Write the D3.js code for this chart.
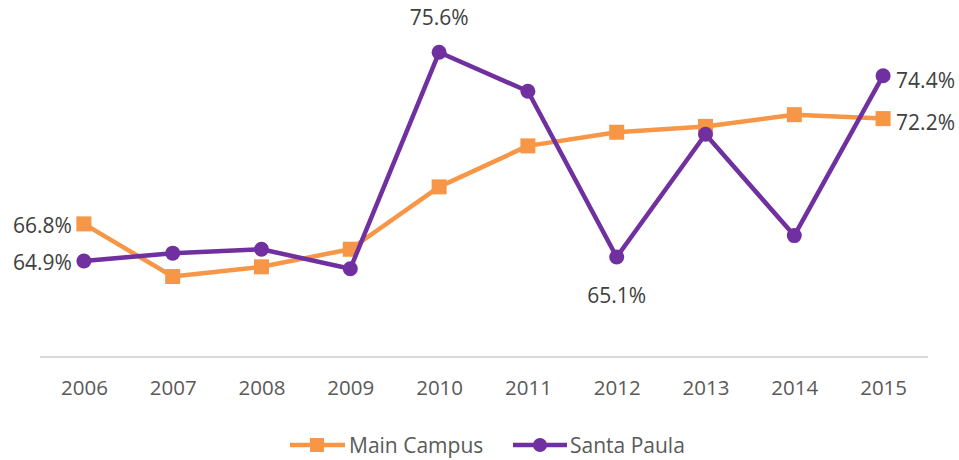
<!DOCTYPE html>
<html>
<head>
<meta charset="utf-8">
<script src="https://cdn.jsdelivr.net/npm/d3@7"></script>
<style>
  html, body { margin: 0; padding: 0; background: #fff; }
  text { font-family: "Open Sans", sans-serif; }
</style>
</head>
<body>
<svg id="chart" width="959" height="460"></svg>
<script>
const years = ["2006","2007","2008","2009","2010","2011","2012","2013","2014","2015"];
const mainCampus = [66.8, 64.1, 64.6, 65.5, 68.7, 70.8, 71.5, 71.8, 72.4, 72.2];
const santaPaula = [64.9, 65.3, 65.5, 64.5, 75.6, 73.6, 65.1, 71.4, 66.2, 74.4];
const seriesNames = ["Main Campus", "Santa Paula"];
const yDomain = [60, 80];

const svg = d3.select("#chart");
const orange = "#F79646", purple = "#7030A0";

const x = d3.scalePoint().domain(years).range([39.5, 927.5]).padding(0.5);
const y = d3.scaleLinear().domain(yDomain).range([356.5, -33.5]);

// x axis
const xAxis = d3.axisBottom(x).tickSize(0).tickPadding(0);
const gx = svg.append("g").attr("transform", "translate(0,356.5)").call(xAxis);
gx.select(".domain").attr("stroke", "#d9d9d9").attr("stroke-width", 2);
gx.selectAll("text").attr("font-family", "Open Sans, sans-serif").attr("font-size", 20.5)
  .attr("fill", "#595959").attr("dy", "0").attr("y", 38);

const line = d3.line().x((d, i) => x(years[i])).y(d => y(d));

// Main Campus
svg.append("path").datum(mainCampus).attr("d", line).attr("fill", "none")
  .attr("stroke", orange).attr("stroke-width", 4.5).attr("stroke-linejoin", "round");
svg.selectAll("rect.mc").data(mainCampus).enter().append("rect").attr("class", "mc")
  .attr("x", (d, i) => x(years[i]) - 7.5).attr("y", d => y(d) - 7.5)
  .attr("width", 15).attr("height", 15).attr("fill", orange);

// Santa Paula
svg.append("path").datum(santaPaula).attr("d", line).attr("fill", "none")
  .attr("stroke", purple).attr("stroke-width", 4.5).attr("stroke-linejoin", "round");
svg.selectAll("circle.sp").data(santaPaula).enter().append("circle").attr("class", "sp")
  .attr("cx", (d, i) => x(years[i])).attr("cy", d => y(d)).attr("r", 7.5).attr("fill", purple);

// data labels
const fmt = v => v.toFixed(1) + "%";
function label(series, idx, dx, dy, anchor) {
  svg.append("text").attr("x", x(years[idx]) + dx).attr("y", y(series[idx]) + dy)
    .attr("text-anchor", anchor).attr("dominant-baseline", "central")
    .attr("font-size", 21).attr("fill", "#404040").text(fmt(series[idx]));
}
label(mainCampus, 0, -12, 1, "end");
label(santaPaula, 0, -12, 1, "end");
label(santaPaula, 4, 0, -35, "middle");
label(santaPaula, 6, 0, 38, "middle");
label(santaPaula, 9, 13, 4, "start");
label(mainCampus, 9, 13, 3, "start");

// legend
const lg = svg.append("g");
lg.append("line").attr("x1", 290).attr("x2", 345).attr("y1", 445).attr("y2", 445)
  .attr("stroke", orange).attr("stroke-width", 4.5);
lg.append("rect").attr("x", 310).attr("y", 438).attr("width", 14).attr("height", 14).attr("fill", orange);
lg.append("text").attr("x", 349).attr("y", 445).attr("dominant-baseline", "central")
  .attr("font-size", 21).attr("fill", "#595959").text(seriesNames[0]);
lg.append("line").attr("x1", 513).attr("x2", 567).attr("y1", 445).attr("y2", 445)
  .attr("stroke", purple).attr("stroke-width", 4.5);
lg.append("circle").attr("cx", 540).attr("cy", 445).attr("r", 7).attr("fill", purple);
lg.append("text").attr("x", 570).attr("y", 445).attr("dominant-baseline", "central")
  .attr("font-size", 21).attr("fill", "#595959").text(seriesNames[1]);
</script>
</body>
</html>
